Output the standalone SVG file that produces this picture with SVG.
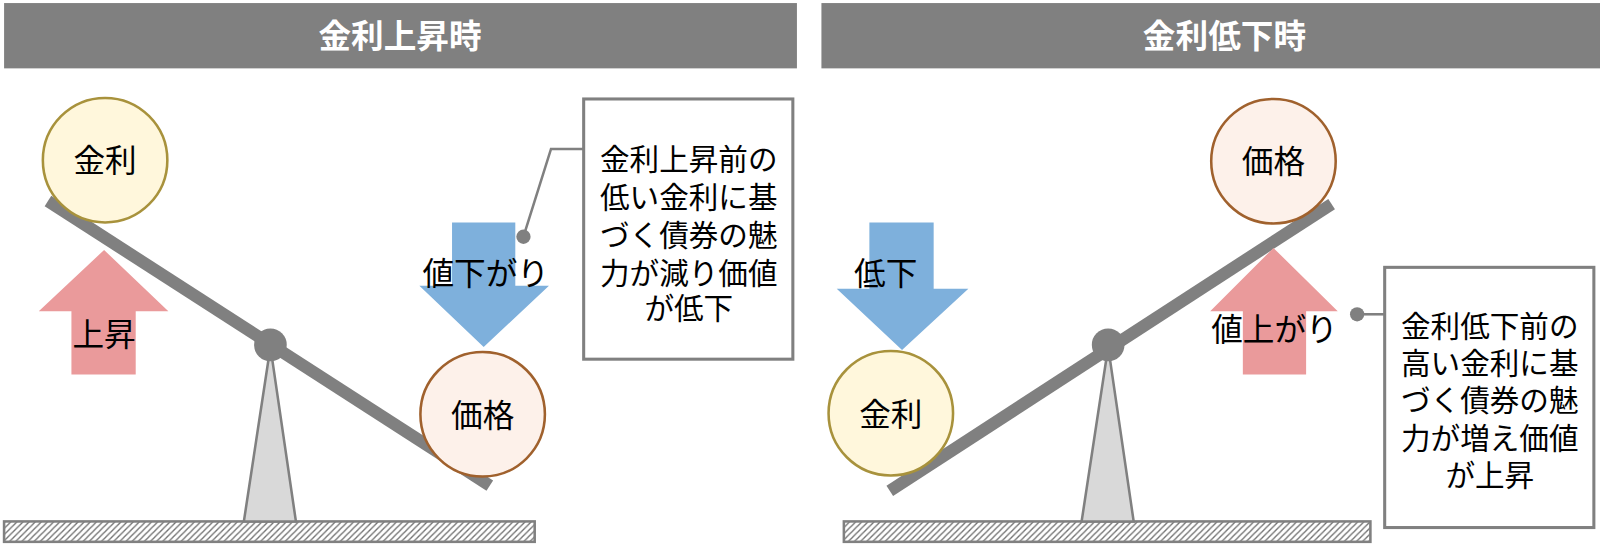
<svg xmlns="http://www.w3.org/2000/svg" width="1600" height="560" viewBox="0 0 1600 560">
<style>
.hdr{fill:#808080}
.hdrt{font-family:"Noto Sans CJK JP","Noto Sans",sans-serif;font-size:32px;font-weight:bold;fill:#ffffff;text-anchor:middle}
.t{font-family:"Noto Sans CJK JP","Noto Sans",sans-serif;font-size:29px;fill:#000000;text-anchor:middle}
.lb{font-family:"Noto Sans CJK JP","Noto Sans",sans-serif;font-size:31px;fill:#000000;text-anchor:middle}
.kinri{fill:#fff7dc;stroke:#a8923c;stroke-width:2.5}
.kakaku{fill:#fdf1ea;stroke:#a0612d;stroke-width:2.5}
.beam{stroke:#808080;stroke-width:12;fill:none}
.piv{fill:#808080}
.ful{fill:#d9d9d9;stroke:#808080;stroke-width:2.5}
.gnd{fill:url(#hatch);stroke:#808080;stroke-width:2.5}
.up{fill:#ea9a9b}
.down{fill:#7eb0dc}
.box{fill:#ffffff;stroke:#808080;stroke-width:3}
.con{stroke:#808080;stroke-width:2.5;fill:none}
.dot{fill:#808080}
</style>
<defs>
<pattern id="hatch" patternUnits="userSpaceOnUse" width="6" height="6">
<rect width="6" height="6" fill="#ffffff"/>
<path d="M-1,1 L1,-1 M0,6 L6,0 M5,7 L7,5" stroke="#707070" stroke-width="1.3"/>
</pattern>
</defs>

<g transform="scale(1.0204)">
<g id="header-left">
<rect class="hdr" x="4" y="3" width="777" height="64"/>
<text class="hdrt" x="392" y="47">金利上昇時</text>
</g>
<g id="header-right">
<rect class="hdr" x="805" y="3" width="800" height="64"/>
<text class="hdrt" x="1200" y="47">金利低下時</text>
</g>

<g id="ground-left"><rect class="gnd" x="4" y="511" width="520" height="20"/></g>
<g id="fulcrum-left"><polygon class="ful" points="265,340 290,511 239,511"/></g>
<g id="beam-left">
<line class="beam" x1="47" y1="197" x2="480" y2="476"/>
<circle class="piv" cx="265" cy="338" r="16"/>
</g>
<g id="kinri-left">
<circle class="kinri" cx="103" cy="157" r="61"/>
<text class="lb" x="103" y="169">金利</text>
</g>
<g id="arrow-up-left">
<polygon class="up" points="102,245 165,305 133,305 133,367 70,367 70,305 38,305"/>
<text class="lb" x="102" y="339">上昇</text>
</g>
<g id="kakaku-left">
<circle class="kakaku" cx="473" cy="406" r="61"/>
<text class="lb" x="473" y="418">価格</text>
</g>
<g id="arrow-down-left">
<polygon class="down" points="443,218 505,218 505,280 538,280 474,340 411,280 443,280"/>
<text class="lb" x="476" y="279">値下がり</text>
</g>
<g id="callout-left">
<rect class="box" x="572" y="97" width="205" height="255"/>
<text class="t" x="675" y="167">金利上昇前の</text>
<text class="t" x="675" y="204">低い金利に基</text>
<text class="t" x="675" y="241">づく債券の魅</text>
<text class="t" x="675" y="278">力が減り価値</text>
<text class="t" x="675" y="313">が低下</text>
</g>

<g id="ground-right"><rect class="gnd" x="827" y="511" width="516" height="20"/></g>
<g id="fulcrum-right"><polygon class="ful" points="1086,340 1111,511 1060,511"/></g>
<g id="beam-right">
<line class="beam" x1="872" y1="481" x2="1305" y2="200"/>
<circle class="piv" cx="1086" cy="338" r="16"/>
</g>
<g id="kakaku-right">
<circle class="kakaku" cx="1248" cy="158" r="61"/>
<text class="lb" x="1248" y="170">価格</text>
</g>
<g id="arrow-up-right">
<polygon class="up" points="1248,243 1311,305 1280,305 1280,367 1218,367 1218,305 1186,305"/>
<text class="lb" x="1249" y="334">値上がり</text>
</g>
<g id="kinri-right">
<circle class="kinri" cx="873" cy="405" r="61"/>
<text class="lb" x="873" y="417">金利</text>
</g>
<g id="arrow-down-right">
<polygon class="down" points="852,218 915,218 915,283 949,283 884,343 820,283 852,283"/>
<text class="lb" x="868" y="279">低下</text>
</g>
<g id="callout-right">
<rect class="box" x="1357" y="262" width="205" height="255"/>
<text class="t" x="1460" y="330">金利低下前の</text>
<text class="t" x="1460" y="367">高い金利に基</text>
<text class="t" x="1460" y="403">づく債券の魅</text>
<text class="t" x="1460" y="440">力が増え価値</text>
<text class="t" x="1460" y="476">が上昇</text>
</g>

<g id="connectors">
<polyline class="con" points="572,146 540,146 513,232"/>
<circle class="dot" cx="513" cy="232" r="7"/>
<line class="con" x1="1330" y1="308" x2="1357" y2="308"/>
<circle class="dot" cx="1330" cy="308" r="7"/>
</g>
</g>
</svg>
